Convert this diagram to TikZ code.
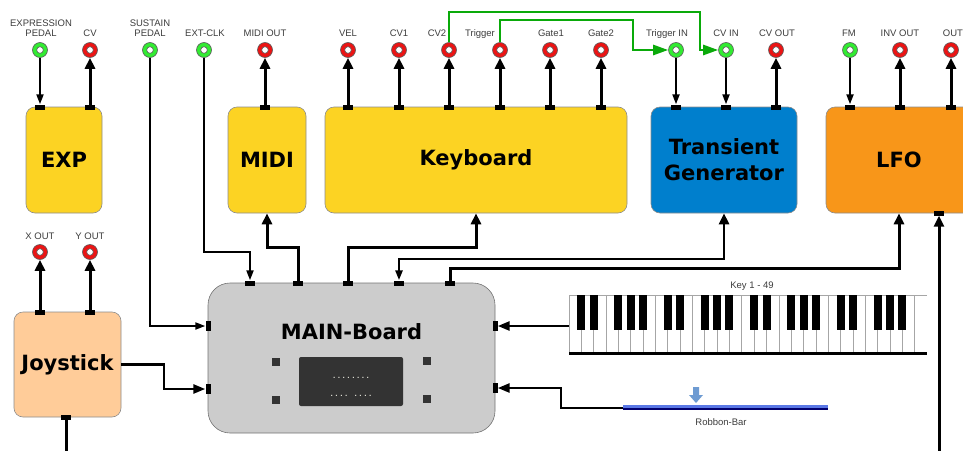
\documentclass[tikz,border=0pt]{standalone}
\usepackage{fontspec}
\setmainfont{Liberation Sans}
\newfontfamily\titlefont{DejaVu Sans}
\newfontfamily\dotfont{Liberation Mono}
\usetikzlibrary{arrows.meta}
\definecolor{jred}{RGB}{235,20,20}
\definecolor{jgreen}{RGB}{50,235,50}
\definecolor{lgreen}{RGB}{10,170,10}
\definecolor{yel}{RGB}{252,211,35}
\definecolor{tblue}{RGB}{0,127,205}
\definecolor{lorange}{RGB}{248,150,25}
\definecolor{peach}{RGB}{255,204,153}
\definecolor{mgray}{RGB}{204,204,204}
\definecolor{dispgray}{RGB}{51,51,51}
\definecolor{labgray}{RGB}{60,60,60}
\definecolor{rblue}{RGB}{90,120,230}
\definecolor{navy}{RGB}{0,0,110}
\definecolor{abl}{RGB}{110,155,210}
\definecolor{dotc}{RGB}{225,225,215}
\begin{document}
\begin{tikzpicture}[x=1pt,y=-1pt,
 lab/.style={font=\fontsize{9.5}{10}\selectfont, text=labgray, align=center, inner sep=0pt, anchor=base},
 lab2/.style={lab, anchor=south},
 jack/.style={circle, minimum size=15pt, inner sep=0pt, draw=black!65, line width=0.6pt,
   path picture={\draw[black!65, line width=0.6pt, fill=white] (path picture bounding box.center) circle (3.3pt);}},
 jackR/.style={jack, fill=jred},
 jackG/.style={jack, fill=jgreen},
 box/.style={draw=black!45, line width=0.6pt, rounded corners=9pt, inner sep=0pt,
   font=\titlefont\bfseries\fontsize{21}{26}\selectfont, align=center},
 porth/.style={fill=black, inner sep=0pt, minimum width=10pt, minimum height=5pt},
 portv/.style={fill=black, inner sep=0pt, minimum width=5pt, minimum height=10pt},
 sq/.style={fill=dispgray, inner sep=0pt, minimum size=8pt},
 outw/.style={line width=3pt, -{Triangle[length=11pt,width=10pt]}},
 inw/.style={line width=2pt, -{Triangle[length=10pt,width=7pt]}},
 midw/.style={line width=2.6pt, -{Triangle[length=12pt,width=9pt]}},
 grn/.style={draw=lgreen, line width=2.5pt, -{Triangle[length=15pt,width=10pt]}},
 dots/.style={font=\dotfont\bfseries\fontsize{8}{8}\selectfont, text=dotc, inner sep=0pt, anchor=base}
]
\useasboundingbox (0,0) rectangle (963,450);
\clip (0,0) rectangle (963,450);

% ---------- boxes ----------
\node[box, fill=yel, minimum width=76pt, minimum height=106pt] (exp) at (64,160) {EXP};
\node[box, fill=yel, minimum width=78pt, minimum height=106pt] (midi) at (267,160) {MIDI};
\node[box, fill=yel, minimum width=302pt, minimum height=106pt] (kbd) at (476,160) {Keyboard};
\node[box, fill=tblue, minimum width=146pt, minimum height=106pt] (trans) at (724,160) {Transient\\Generator};
\node[box, fill=lorange, minimum width=146pt, minimum height=106pt] (lfo) at (899,160) {LFO};
\node[box, fill=peach, minimum width=107pt, minimum height=105pt] (joy) at (67.5,364.5) {Joystick};
\node[box, fill=mgray, draw=black!55, rounded corners=22pt, minimum width=287pt, minimum height=150pt] (main) at (351.5,358) {};
\node[font=\titlefont\bfseries\fontsize{21}{26}\selectfont, inner sep=0pt] (mainlab) at (351.5,332) {MAIN-Board};

% display
\node[fill=dispgray, rounded corners=2pt, minimum width=104pt, minimum height=49pt, inner sep=0pt] (disp) at (351,381.5) {};
\node[dots] (d1) at (351,378) {........};
\node[dots] (d2) at (351,396) {....\ ....};
\node[sq] (s1) at (276,362) {};
\node[sq] (s2) at (276,400) {};
\node[sq] (s3) at (427,361) {};
\node[sq] (s4) at (427,399) {};

% ---------- piano ----------
\node[fill=white, minimum width=358pt, minimum height=58pt, inner sep=0pt, anchor=north west] (piano) at (569,295) {};
\foreach \i in {1,...,28} \draw[black!35, line width=0.7pt] ({569+\i*358/29},295) -- ({569+\i*358/29},352);
\draw[black!35, line width=0.7pt] (927,295) -- (569,295) -- (569,352);
\foreach \o in {0,...,3} \foreach \b in {1,2,4,5,6}
  \fill ({569+(7*\o+\b)*358/29-4},295) rectangle +(8,35);
\draw[line width=3pt] (569,353) -- (927,353);
\node[lab] (keylab) at (752,288) {Key 1 - 49};

% ---------- ribbon ----------
\fill[rblue] (623,405) rectangle (828,407.5);
\fill[navy] (623,407.5) rectangle (828,410);
\coordinate (rib) at (623,408);
\fill[abl] (693,387) -- (699,387) -- (699,395) -- (703,395) -- (696,403) -- (689,395) -- (693,395) -- cycle;
\node[lab] (riblab) at (721,425) {Robbon-Bar};

% ---------- ports ----------
\node[porth] (pe1) at (40,107) {};
\node[porth] (pe2) at (90,107) {};
\node[porth] (pmi) at (265,107) {};
\foreach \n/\x in {pk1/348,pk2/399,pk3/449,pk4/500,pk5/550,pk6/601,pt1/676,pt2/726,pt3/776,pl1/850,pl2/900,pl3/951}
  \node[porth] (\n) at (\x,107) {};
\node[porth] (plb) at (939,213) {};
\node[porth] (pj1) at (40,312) {};
\node[porth] (pj2) at (90,312) {};
\node[porth] (pj3) at (66,417) {};
\foreach \n/\x in {pm1/250,pm2/298,pm3/348,pm4/399,pm5/450}
  \node[porth] (\n) at (\x,283) {};
\node[portv] (pml1) at (208,326) {};
\node[portv] (pml2) at (208,389) {};
\node[portv] (pmr1) at (495,326) {};
\node[portv] (pmr2) at (495,388) {};

% ---------- jacks ----------
\node[jackG] (jexp) at (40,50) {};
\node[jackR] (jcv) at (90,50) {};
\node[jackG] (jsus) at (150,50) {};
\node[jackG] (jclk) at (204,50) {};
\node[jackR] (jmidi) at (265,50) {};
\node[jackR] (jvel) at (348,50) {};
\node[jackR] (jcv1) at (399,50) {};
\node[jackR] (jcv2) at (449,50) {};
\node[jackR] (jtrig) at (500,50) {};
\node[jackR] (jg1) at (550,50) {};
\node[jackR] (jg2) at (601,50) {};
\node[jackG] (jtrin) at (676,50) {};
\node[jackG] (jcvin) at (726,50) {};
\node[jackR] (jcvout) at (776,50) {};
\node[jackG] (jfm) at (850,50) {};
\node[jackR] (jinv) at (900,50) {};
\node[jackR] (jout) at (951,50) {};
\node[jackR] (jx) at (40,252) {};
\node[jackR] (jy) at (90,252) {};

% ---------- labels ----------
\node[lab2] (lexp) at (41,37) {EXPRESSION\\PEDAL};
\node[lab] (lcv) at (90,36) {CV};
\node[lab2] (lsus) at (150,37) {SUSTAIN\\PEDAL};
\node[lab] (lclk) at (205,36) {EXT-CLK};
\node[lab] (lmidi) at (265,36) {MIDI OUT};
\node[lab] (lvel) at (348,36) {VEL};
\node[lab] (lcv1) at (399,36) {CV1};
\node[lab] (lcv2) at (437,36) {CV2};
\node[lab] (ltrig) at (480,36) {Trigger};
\node[lab] (lg1) at (551,36) {Gate1};
\node[lab] (lg2) at (601,36) {Gate2};
\node[lab] (ltrin) at (667,36) {Trigger IN};
\node[lab] (lcvin) at (726,36) {CV IN};
\node[lab] (lcvout) at (777,36) {CV OUT};
\node[lab] (lfm) at (849,36) {FM};
\node[lab] (linv) at (900,36) {INV OUT};
\node[lab] (lout) at (953,36) {OUT};
\node[lab] (lx) at (40,239) {X OUT};
\node[lab] (ly) at (90,239) {Y OUT};

% ---------- connectors: jacks ----------
\foreach \p/\j in {pe2/jcv, pmi/jmidi, pk1/jvel, pk2/jcv1, pk3/jcv2, pk4/jtrig, pk5/jg1, pk6/jg2, pt3/jcvout, pl2/jinv, pl3/jout, pj1/jx, pj2/jy}
  \draw[outw] (\p.center) -- (\j.south);
\foreach \j/\p in {jexp/pe1, jtrin/pt1, jcvin/pt2, jfm/pl1}
  \draw[inw] (\j.south) -- (\p.north);

% green patch cords
\coordinate (gt1) at (449,12);
\coordinate (g1) at (700,50);
\coordinate (gt2) at (500,20);
\coordinate (g2) at (633,50);
\draw[grn] (jcv2.north) -- (gt1) -| (g1) -- (jcvin.west);
\draw[grn] (jtrig.north) -- (gt2) -| (g2) -- (jtrin.west);

% ---------- connectors: main board ----------
\coordinate (e1) at (204,252);
\draw[inw] (jclk.south) -- (e1) -| (pm1.north);
\coordinate (e2) at (298,247);
\draw[outw] (pm2.center) -- (e2) -| (midi.south);
\coordinate (e3) at (348,247);
\draw[outw] (pm3.center) -- (e3) -| (kbd.south);
\coordinate (e4) at (399,259);
\draw[line width=2.6pt, {Triangle[length=10pt,width=7pt]}-{Triangle[length=11pt,width=10pt]}] (pm4.north) -- (e4) -| (trans.south);
\coordinate (e5) at (450,268);
\draw[outw] (pm5.center) -- (e5) -| (lfo.south);
\coordinate (lfob) at (939,455);
\draw[outw] (lfob) -- (plb.south);

\draw[inw] (jsus.south) |- (pml1.west);
\coordinate (e6) at (164,364.5);
\draw[midw] (joy.east) -- (e6) |- (pml2.west);
\coordinate (joyb) at (66,455);
\draw[line width=3pt] (pj3.center) -- (joyb);

\draw[midw] (piano.west |- pmr1) -- (pmr1.east);
\coordinate (e7) at (561,408);
\draw[midw] (rib) -- (e7) |- (pmr2.east);
\end{tikzpicture}
\end{document}
